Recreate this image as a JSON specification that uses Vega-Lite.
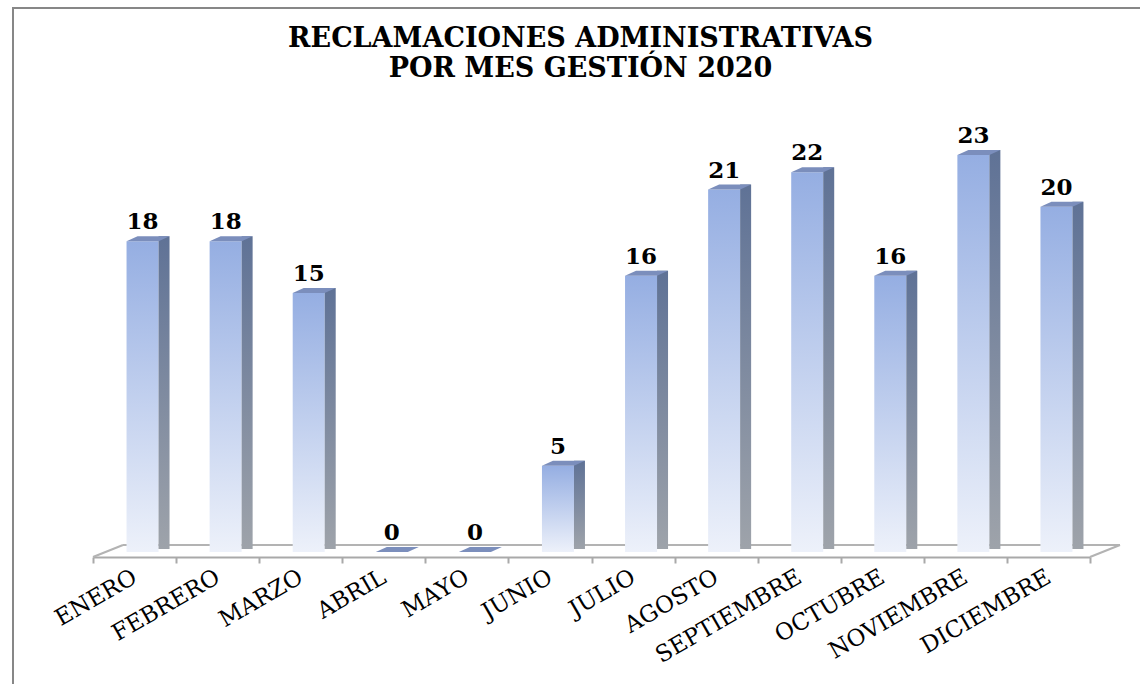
{
  "$schema": "https://vega.github.io/schema/vega-lite/v6.json",
  "autosize": {"type": "none"},
  "padding": {"left": 13, "top": 8, "right": 0, "bottom": 0},
  "width": 1135,
  "height": 680,
  "background": "white",
  "config": {"view": {"stroke": "#878787", "strokeWidth": 2}, "font": "DejaVu Serif"},
  "title": {
    "text": ["RECLAMACIONES ADMINISTRATIVAS", "POR MES GESTIÓN 2020"],
    "font": "DejaVu Serif",
    "fontSize": 27,
    "fontWeight": "bold",
    "color": "black",
    "anchor": "middle",
    "frame": "group",
    "offset": -75,
    "lineHeight": 30
  },
  "data": {
    "values": [
      {"mes": "ENERO", "valor": 18},
      {"mes": "FEBRERO", "valor": 18},
      {"mes": "MARZO", "valor": 15},
      {"mes": "ABRIL", "valor": 0},
      {"mes": "MAYO", "valor": 0},
      {"mes": "JUNIO", "valor": 5},
      {"mes": "JULIO", "valor": 16},
      {"mes": "AGOSTO", "valor": 21},
      {"mes": "SEPTIEMBRE", "valor": 22},
      {"mes": "OCTUBRE", "valor": 16},
      {"mes": "NOVIEMBRE", "valor": 23},
      {"mes": "DICIEMBRE", "valor": 20}
    ]
  },
  "encoding": {
    "x": {
      "field": "mes",
      "type": "nominal",
      "sort": null,
      "scale": {
        "domain": ["ENERO", "FEBRERO", "MARZO", "ABRIL", "MAYO", "JUNIO", "JULIO", "AGOSTO", "SEPTIEMBRE", "OCTUBRE", "NOVIEMBRE", "DICIEMBRE"],
        "range": [80, 1077],
        "paddingInner": 0,
        "paddingOuter": 0
      },
      "axis": {
        "title": null,
        "offset": -131,
        "domainColor": "#a9a9a9",
        "domainWidth": 2,
        "tickColor": "#a9a9a9",
        "tickWidth": 2,
        "tickSize": 6,
        "tickBand": "extent",
        "labelAngle": -30,
        "labelAlign": "right",
        "labelBaseline": "middle",
        "labelFont": "DejaVu Serif",
        "labelFontSize": 23,
        "labelColor": "black",
        "labelPadding": 12,
        "labelOverlap": false,
        "grid": false
      }
    },
    "y": {
      "field": "valor",
      "type": "quantitative",
      "scale": {"domain": [0, 25], "range": [544, 112.5]},
      "axis": null
    }
  },
  "layer": [
    {
      "transform": [{"filter": "datum.mes == 'ENERO'"}],
      "mark": {"type": "rule", "color": "#b3b3b3", "strokeWidth": 2, "xOffset": 30, "x2Offset": 30, "yOffset": -7, "y2Offset": -7},
      "encoding": {
        "x": {"datum": "ENERO", "bandPosition": 0},
        "x2": {"datum": "DICIEMBRE", "bandPosition": 1},
        "y": {"datum": 0},
        "y2": {"datum": 0}
      }
    },
    {
      "transform": [{"filter": "datum.mes == 'ENERO'"}],
      "mark": {"type": "rule", "color": "#b3b3b3", "strokeWidth": 2, "x2Offset": 30, "yOffset": 5, "y2Offset": -7},
      "encoding": {
        "x": {"datum": "ENERO", "bandPosition": 0},
        "x2": {"datum": "ENERO", "bandPosition": 0},
        "y": {"datum": 0},
        "y2": {"datum": 0}
      }
    },
    {
      "transform": [{"filter": "datum.mes == 'ENERO'"}],
      "mark": {"type": "rule", "color": "#b3b3b3", "strokeWidth": 2, "x2Offset": 30, "yOffset": 5, "y2Offset": -7},
      "encoding": {
        "x": {"datum": "DICIEMBRE", "bandPosition": 1},
        "x2": {"datum": "DICIEMBRE", "bandPosition": 1},
        "y": {"datum": 0},
        "y2": {"datum": 0}
      }
    },
    {
      "transform": [{"filter": "datum.valor > 0"}],
      "mark": {
        "type": "bar",
        "width": 32,
        "xOffset": 8,
        "color": {
          "gradient": "linear",
          "x1": 0, "y1": 1, "x2": 0, "y2": 0,
          "stops": [
            {"offset": 0, "color": "#edf1fa"},
            {"offset": 1, "color": "#95aee2"}
          ]
        }
      },
      "encoding": {"y2": {"datum": 0}}
    },
    {
      "transform": [{"filter": "datum.valor > 0"}],
      "mark": {
        "type": "bar",
        "width": 11,
        "xOffset": 29.5,
        "yOffset": -5,
        "y2Offset": -3,
        "color": {
          "gradient": "linear",
          "x1": 0, "y1": 1, "x2": 0, "y2": 0,
          "stops": [
            {"offset": 0, "color": "#9ea3aa"},
            {"offset": 1, "color": "#5f7296"}
          ]
        }
      },
      "encoding": {"y2": {"datum": 0}}
    },
    {
      "mark": {
        "type": "point",
        "shape": "M -0.5 0 L 0.5 0 L 0.844 -0.156 L -0.156 -0.156 Z",
        "size": 4096,
        "filled": true,
        "opacity": 1,
        "strokeWidth": 0,
        "color": "#7b8ebc",
        "xOffset": 8
      }
    },
    {
      "mark": {
        "type": "text",
        "font": "DejaVu Serif",
        "fontSize": 23,
        "fontWeight": "bold",
        "color": "black",
        "baseline": "alphabetic",
        "align": "center",
        "dx": 8,
        "dy": -12
      },
      "encoding": {"text": {"field": "valor", "type": "quantitative"}}
    }
  ]
}
